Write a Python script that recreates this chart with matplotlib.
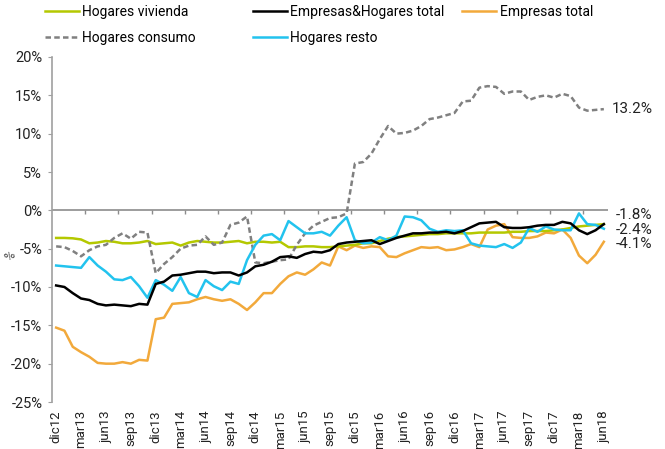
import numpy as np
import matplotlib
matplotlib.use("Agg")
import matplotlib.pyplot as plt

plt.rcParams["font.family"] = ["Roboto", "DejaVu Sans"]

# monthly values, dic12 .. jun18
tick_labels = ["dic12", "mar13", "jun13", "sep13", "dic13", "mar14", "jun14", "sep14",
               "dic14", "mar15", "jun15", "sep15", "dic15", "mar16", "jun16", "sep16",
               "dic16", "mar17", "jun17", "sep17", "dic17", "mar18", "jun18"]

hogares_vivienda = [-3.6, -3.6, -3.65, -3.8, -4.3, -4.2, -4.0, -4.1, -4.3, -4.3, -4.2, -4.0,
                    -4.4, -4.3, -4.2, -4.6, -4.2, -4.0, -4.1, -4.2, -4.2, -4.1, -4.0, -4.3,
                    -4.1, -4.1, -4.2, -4.1, -4.8, -4.8, -4.7, -4.7, -4.8, -4.8, -4.7, -4.6,
                    -4.5, -4.3, -4.3, -4.0, -3.7, -3.5, -3.4, -3.3, -3.2, -3.1, -3.1, -3.0,
                    -3.0, -3.0, -3.0, -2.9, -2.9, -2.9, -2.9, -2.8, -2.8, -2.7, -2.7, -2.7,
                    -2.6, -2.5, -2.3, -2.1, -2.0, -1.9, -1.8]

hogares_consumo = [-4.7, -4.8, -5.3, -6.0, -5.2, -4.7, -4.5, -3.6, -3.0, -3.7, -2.8, -2.9,
                   -8.2, -7.0, -6.1, -5.0, -4.6, -4.5, -3.4, -4.5, -4.2, -1.9, -1.6, -0.8,
                   -6.8, -6.9, -6.7, -6.5, -6.4, -4.5, -3.0, -2.0, -1.5, -1.0, -0.9, -0.4,
                   6.1, 6.3, 7.4, 9.3, 11.0, 10.0, 10.1, 10.4, 11.0, 11.9, 12.1, 12.4,
                   12.7, 14.2, 14.3, 16.0, 16.2, 16.1, 15.2, 15.5, 15.5, 14.4, 14.8, 15.0,
                   14.7, 15.2, 14.9, 13.4, 13.0, 13.1, 13.2]

empresas_hogares_total = [-9.8, -10.0, -10.8, -11.5, -11.7, -12.2, -12.4, -12.3, -12.4, -12.5, -12.2, -12.3,
                          -9.6, -9.3, -8.5, -8.4, -8.2, -8.0, -8.0, -8.2, -8.1, -8.1, -8.5, -8.1,
                          -7.3, -7.1, -6.7, -6.1, -6.0, -6.2, -5.7, -5.4, -5.5, -5.2, -4.4, -4.2,
                          -4.1, -4.0, -3.9, -4.4, -4.0, -3.6, -3.3, -3.0, -3.0, -2.9, -2.9, -2.8,
                          -3.0, -2.7, -2.2, -1.7, -1.6, -1.5, -2.2, -2.3, -2.3, -2.2, -2.0, -1.9,
                          -1.9, -1.5, -1.7, -2.6, -3.1, -2.6, -1.8]

hogares_resto = [-7.2, -7.3, -7.4, -7.5, -6.1, -7.2, -8.0, -9.0, -9.1, -8.7, -9.9, -11.4,
                 -9.1, -9.7, -10.5, -8.7, -10.8, -11.3, -9.1, -9.9, -10.4, -9.3, -9.6, -6.5,
                 -4.5, -3.3, -3.1, -3.9, -1.4, -2.2, -3.0, -3.0, -2.8, -3.3, -2.0, -0.9,
                 -3.9, -4.3, -4.2, -3.5, -3.9, -3.3, -0.8, -0.9, -1.3, -2.4, -2.8, -2.6,
                 -2.7, -2.6, -4.3, -4.6, -4.7, -4.8, -4.4, -4.9, -4.2, -2.3, -2.8, -2.1,
                 -2.5, -2.6, -2.6, -0.4, -1.8, -1.9, -2.4]

empresas_total = [-15.3, -15.7, -17.8, -18.5, -19.1, -19.9, -20.0, -20.0, -19.8, -20.0, -19.5, -19.6,
                  -14.2, -14.0, -12.2, -12.1, -12.0, -11.6, -11.3, -11.6, -11.8, -11.6, -12.2, -13.0,
                  -12.0, -10.8, -10.8, -9.6, -8.6, -8.1, -8.4, -7.7, -6.8, -7.2, -4.7, -5.2,
                  -4.6, -4.9, -4.7, -4.8, -6.0, -6.1, -5.6, -5.2, -4.8, -4.9, -4.8, -5.2,
                  -5.1, -4.8, -4.4, -4.8, -2.5, -2.0, -1.8, -3.5, -3.6, -3.6, -3.4, -2.9,
                  -3.0, -2.5, -3.6, -5.9, -6.9, -5.8, -4.1]

x = np.arange(len(hogares_vivienda))

fig = plt.figure(figsize=(6.65, 4.49), dpi=100)
ax = fig.add_axes([52 / 665, 1 - 402 / 449, 556 / 665, 345 / 449])

lw = 1.8
l_emp, = ax.plot(x, empresas_total, color="#F2A93B", lw=lw)
l_viv, = ax.plot(x, hogares_vivienda, color="#B4C800", lw=lw)
l_con, = ax.plot(x, hogares_consumo, color="#808080", lw=lw, dashes=(2.2, 1.3))
l_res, = ax.plot(x, hogares_resto, color="#22C3EE", lw=lw)
l_tot, = ax.plot(x, empresas_hogares_total, color="#000000", lw=lw)

ax.set_xlim(-0.5, len(x) - 0.5)
ax.set_ylim(-25, 20)

# y axis
ax.set_yticks(np.arange(-25, 21, 5))
ax.set_yticklabels([f"{v}%" for v in range(-25, 21, 5)], fontsize=10.5, color="#222222")
ax.tick_params(axis="y", length=3, color="#A0A0A0", pad=4)

# x axis labels every 3 months, hanging below the plot
ax.set_xticks(x[::3])
ax.set_xticklabels(tick_labels, rotation=90, fontsize=9.5, color="#222222")
ax.tick_params(axis="x", length=0, pad=6)

for side in ["top", "right", "bottom"]:
    ax.spines[side].set_visible(False)
ax.spines["left"].set_color("#A0A0A0")
ax.spines["left"].set_linewidth(1.2)

# zero line with small tick marks every 4 months
ax.axhline(0, color="#8C8C8C", lw=1.2, zorder=1)
ax.vlines(np.arange(3.5, len(x), 4), -0.45, 0, color="#8C8C8C", lw=1.0, zorder=1)

# end labels
last = len(x) - 1
ax.text(last + 0.9, hogares_consumo[-1], f"{hogares_consumo[-1]:.1f}%", va="center", ha="left",
        fontsize=11, color="#222222", clip_on=False)
ax.text(last + 1.4, empresas_hogares_total[-1] + 1.2, f"{empresas_hogares_total[-1]:.1f}%",
        va="center", ha="left", fontsize=11, color="#222222", clip_on=False)
ax.text(last + 1.4, hogares_resto[-1] - 0.2, f"{hogares_resto[-1]:.1f}%",
        va="center", ha="left", fontsize=11, color="#222222", clip_on=False)
ax.text(last + 1.4, empresas_total[-1] - 0.3, f"{empresas_total[-1]:.1f}%",
        va="center", ha="left", fontsize=11, color="#222222", clip_on=False)

fig.text(0.004, 0.43, "%", rotation=45, fontsize=9, color="#444444", va="center")

# legend: three columns on an even grid
leg_cols = [([l_viv, l_con], ["Hogares vivienda", "Hogares consumo"], 45),
            ([l_tot, l_res], ["Empresas&Hogares total", "Hogares resto"], 253),
            ([l_emp], ["Empresas total"], 462)]
for hs, ls, px in leg_cols:
    fig.legend(hs, ls, loc="upper left", bbox_to_anchor=(px / 665, 1 - 5 / 449),
               frameon=False, fontsize=10, handlelength=2.45, handletextpad=0.25,
               labelspacing=0.85, borderpad=0, borderaxespad=0)

fig.savefig("out.png", dpi=100)
